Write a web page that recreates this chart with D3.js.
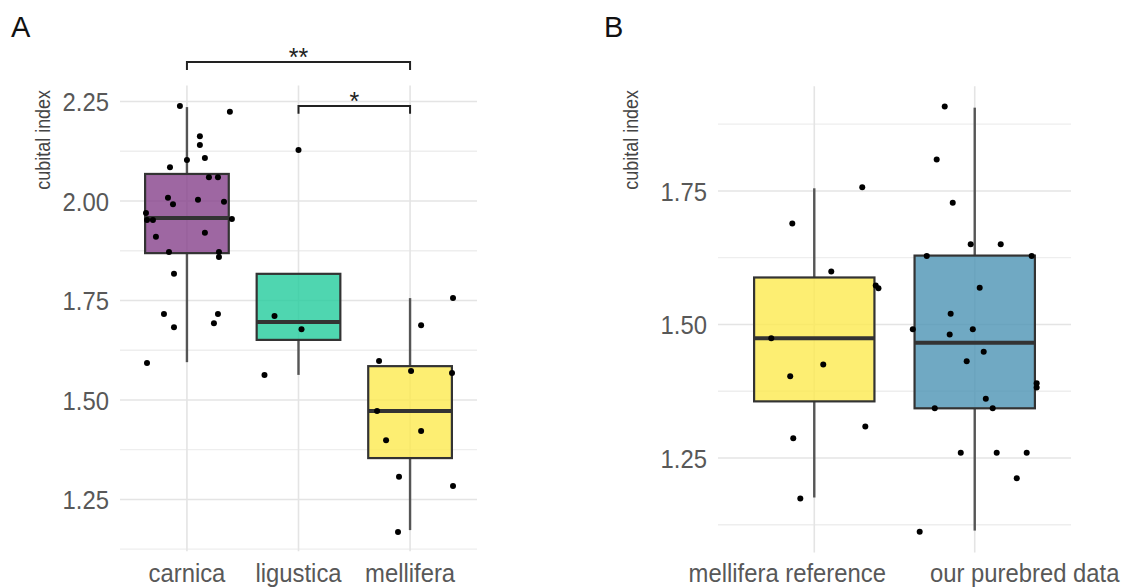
<!DOCTYPE html>
<html>
<head>
<meta charset="utf-8">
<script src="https://cdn.jsdelivr.net/npm/d3@7"></script>
<style>
  html, body { margin: 0; padding: 0; background: #fff; }
  svg { display: block; font-family: "Liberation Sans", Arial, sans-serif; }
</style>
</head>
<body>
<svg id="chart" width="1129" height="587" viewBox="0 0 1129 587"></svg>
<script>
// ---- data ----
const groupsA = ["carnica", "ligustica", "mellifera"];
const colorsA = ["#86418b", "#23cc9c", "#fcea4f"];
const lowA  = [1.595, 1.563, 1.173];
const q1A   = [1.869, 1.651, 1.354];
const medA  = [1.957, 1.696, 1.472];
const q3A   = [2.068, 1.817, 1.585];
const highA = [2.236, 1.817, 1.756];

const carnicaValues = [2.239, 2.224, 2.163, 2.141, 2.108, 2.103, 2.085, 2.060, 2.060, 2.008, 1.992, 2.003, 1.998, 1.970,
  1.952, 1.952, 1.955, 1.910, 1.920, 1.872, 1.872, 1.859, 1.817, 1.716, 1.683, 1.693, 1.716, 1.593];
const carnicaJitter = [-0.063, 0.385, 0.116, 0.116, 0.161, 0, -0.152, 0.197, 0.278, -0.170, -0.125, 0.099, 0.332, -0.367,
  -0.358, -0.305, 0.403, -0.278, 0.161, -0.161, 0.287, 0.287, -0.116, -0.206, -0.116, 0.242, 0.278, -0.358];
const ligusticaValues = [2.128, 1.711, 1.678, 1.563];
const ligusticaJitter = [0, -0.215, 0.027, -0.305];
const melliferaValues = [1.756, 1.688, 1.598, 1.573, 1.568, 1.472, 1.399, 1.422, 1.307, 1.284, 1.168];
const melliferaJitter = [0.385, 0.099, -0.278, 0.009, 0.376, -0.296, -0.215, 0.099, -0.099, 0.385, -0.108];

const sigFrom = [1, 2];
const sigTo = [3, 3];
const sigLevel = [2.349, 2.239];
const sigLabel = ["**", "*"];

const groupsB = ["mellifera reference", "our purebred data"];
const colorsB = ["#fcea4f", "#4c93b4"];
const lowB  = [1.176, 1.114];
const q1B   = [1.356, 1.343];
const medB  = [1.474, 1.466];
const q3B   = [1.588, 1.629];
const highB = [1.755, 1.906];

const refValues = [1.689, 1.757, 1.599, 1.573, 1.568, 1.474, 1.403, 1.425, 1.287, 1.309, 1.174];
const refJitter = [-0.137, 0.299, 0.106, 0.383, 0.400, -0.268, -0.150, 0.056, -0.131, 0.318, -0.087];
const ourValues = [1.908, 1.809, 1.728, 1.650, 1.650, 1.628, 1.628, 1.569, 1.520, 1.491, 1.481, 1.491, 1.449, 1.431,
  1.390, 1.382, 1.361, 1.343, 1.343, 1.260, 1.260, 1.260, 1.212, 1.112];
const ourJitter = [-0.187, -0.237, -0.137, -0.025, 0.162, -0.299, 0.355, 0.031, -0.150, -0.386, -0.156, -0.012, 0.056, -0.050,
  0.386, 0.386, 0.069, -0.249, 0.112, -0.087, 0.137, 0.324, 0.262, -0.343];

const ticksA = [1.25, 1.50, 1.75, 2.00, 2.25];
const ticksB = [1.25, 1.50, 1.75];

const svg = d3.select("#chart");
const SX = 0.9; // labels in the figure are narrow and tall

function panel(opt) {
    const g = svg.append("g");
    const x = d3.scaleLinear().domain([0.4, opt.groups.length + 0.6]).range(opt.xr);
    const y = d3.scaleLinear().domain(opt.yd).range(opt.yr);
    const [x0, x1] = opt.xr;
    const [yb, yt] = opt.yr;

    // minor grid
    const minor = d3.range(opt.yd[0], opt.yd[1], 0.125)
        .map(v => Math.ceil(v * 8) / 8)
        .filter(v => v >= opt.yd[0] && v <= opt.yd[1] && !opt.ticks.some(t => Math.abs(t - v) < 1e-6));
    g.selectAll(".minor").data(Array.from(new Set(minor))).join("line")
        .attr("x1", x0).attr("x2", x1)
        .attr("y1", d => y(d)).attr("y2", d => y(d))
        .attr("stroke", "#eeeeee").attr("stroke-width", 1.3);
    g.selectAll(".major").data(opt.ticks).join("line")
        .attr("x1", x0).attr("x2", x1)
        .attr("y1", d => y(d)).attr("y2", d => y(d))
        .attr("stroke", "#e4e4e4").attr("stroke-width", 1.6);
    g.selectAll(".vgrid").data(opt.groups).join("line")
        .attr("x1", (d, i) => x(i + 1)).attr("x2", (d, i) => x(i + 1))
        .attr("y1", yt).attr("y2", yb)
        .attr("stroke", "#e4e4e4").attr("stroke-width", 1.6);

    // y tick labels
    g.selectAll(".ytl").data(opt.ticks).join("text")
        .attr("transform", d => `translate(${x0 - 11},${y(d)}) scale(${SX},1)`)
        .attr("dy", "0.36em")
        .attr("text-anchor", "end")
        .style("font-size", "26.5px").attr("fill", "#585858")
        .text(d => d3.format(".2f")(d));

    // x labels
    g.selectAll(".xtl").data(opt.groups).join("text")
        .attr("transform", (d, i) => `translate(${x(i + 1) + opt.labelShift[i]},582) scale(${SX},1)`)
        .attr("text-anchor", "middle")
        .style("font-size", "26.5px").attr("fill", "#585858")
        .text(d => d);

    // axis title
    g.append("text")
        .attr("transform", `translate(${opt.titleX},90) rotate(-90) scale(0.92,1)`)
        .attr("text-anchor", "end")
        .style("font-size", "19.5px").attr("fill", "#444")
        .text("cubital index");

    // panel tag
    g.append("text")
        .attr("x", opt.tagX).attr("y", 37)
        .style("font-size", "29px").attr("fill", "#111")
        .text(opt.tag);

    const bw = 0.375;
    opt.groups.forEach((name, i) => {
        const cx = x(i + 1);
        g.append("line").attr("x1", cx).attr("x2", cx)
            .attr("y1", y(opt.high[i])).attr("y2", y(opt.q3[i]))
            .attr("stroke", "#555").attr("stroke-width", 2.4);
        g.append("line").attr("x1", cx).attr("x2", cx)
            .attr("y1", y(opt.q1[i])).attr("y2", y(opt.low[i]))
            .attr("stroke", "#555").attr("stroke-width", 2.4);
        g.append("rect")
            .attr("x", x(i + 1 - bw)).attr("width", x(i + 1 + bw) - x(i + 1 - bw))
            .attr("y", y(opt.q3[i])).attr("height", y(opt.q1[i]) - y(opt.q3[i]))
            .attr("fill", opt.colors[i]).attr("fill-opacity", 0.8)
            .attr("stroke", "#333").attr("stroke-width", 2.2);
        g.append("line")
            .attr("x1", x(i + 1 - bw)).attr("x2", x(i + 1 + bw))
            .attr("y1", y(opt.med[i])).attr("y2", y(opt.med[i]))
            .attr("stroke", "#333").attr("stroke-width", 4);
    });

    // jittered points
    opt.points.forEach((pts, i) => {
        g.selectAll(null).data(pts.values.map((v, k) => ({ v, j: pts.jitter[k] }))).join("circle")
            .attr("cx", d => x(i + 1 + d.j))
            .attr("cy", d => y(d.v))
            .attr("r", 3)
            .attr("fill", "#000");
    });

    return { g, x, y };
}

const A = panel({
    groups: groupsA, colors: colorsA,
    low: lowA, q1: q1A, med: medA, q3: q3A, high: highA,
    points: [
        { values: carnicaValues, jitter: carnicaJitter },
        { values: ligusticaValues, jitter: ligusticaJitter },
        { values: melliferaValues, jitter: melliferaJitter }
    ],
    ticks: ticksA,
    xr: [120, 477], yd: [1.12, 2.29], yr: [551.2, 85.6],
    labelShift: [0, 0, 0],
    titleX: 50, tagX: 11, tag: "A"
});

const B = panel({
    groups: groupsB, colors: colorsB,
    low: lowB, q1: q1B, med: medB, q3: q3B, high: highB,
    points: [
        { values: refValues, jitter: refJitter },
        { values: ourValues, jitter: ourJitter }
    ],
    ticks: ticksB,
    xr: [718, 1071], yd: [1.073, 1.946], yr: [552.5, 86.3],
    labelShift: [-27, 50],
    titleX: 638, tagX: 604, tag: "B"
});

// significance brackets (panel A)
const drop = 0.02;
sigFrom.forEach((f, i) => {
    const xa = A.x(f), xb = A.x(sigTo[i]);
    const yl = A.y(sigLevel[i]), yd = A.y(sigLevel[i] - drop);
    A.g.append("path")
        .attr("d", `M${xa},${yd}V${yl}H${xb}V${yd}`)
        .attr("fill", "none").attr("stroke", "#222").attr("stroke-width", 2);
    A.g.append("text")
        .attr("x", (xa + xb) / 2).attr("y", yl + 4)
        .attr("text-anchor", "middle")
        .style("font-size", "25px").attr("fill", "#222")
        .text(sigLabel[i]);
});
</script>
</body>
</html>
